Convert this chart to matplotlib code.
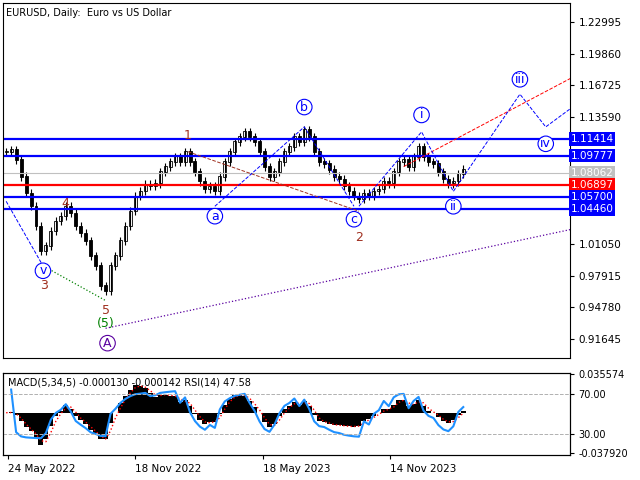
import numpy as np
import pandas as pd
import matplotlib
matplotlib.use("Agg")
from matplotlib import pyplot as plt

# closes sampled every 5 trading days (x in bar units)
closes = [1.1016, 1.1036, 1.0938, 1.0771, 1.0604, 1.0477, 1.0281, 1.0036, 1.0085, 1.0232,
          1.0330, 1.0379, 1.0477, 1.0408, 1.0281, 1.0212, 1.0134, 0.9987, 0.9889, 0.9693,
          0.9644, 0.9889, 0.9987, 1.0134, 1.0281, 1.0428, 1.0575, 1.0624, 1.0693, 1.0673,
          1.0702, 1.0820, 1.0869, 1.0918, 1.0967, 1.0918, 1.1016, 1.0918, 1.0820, 1.0722,
          1.0644, 1.0673, 1.0624, 1.0771, 1.0918, 1.1016, 1.1114, 1.1163, 1.1212, 1.1163,
          1.1114, 1.1016, 1.0869, 1.0771, 1.0820, 1.0918, 1.1016, 1.1065, 1.1163, 1.1114,
          1.1232, 1.1163, 1.1016, 1.0918, 1.0899, 1.0840, 1.0771, 1.0742, 1.0673, 1.0624,
          1.0575, 1.0546, 1.0604, 1.0575, 1.0624, 1.0644, 1.0722, 1.0702, 1.0820, 1.0918,
          1.0938, 1.0869, 1.0967, 1.1065, 1.0967, 1.0918, 1.0899, 1.0820, 1.0742, 1.0702,
          1.0722, 1.0800, 1.0840]
date_labels = ["24 May 2022", "18 Nov 2022", "18 May 2023", "14 Nov 2023"]
date_pos = [2, 130, 258, 386]

levels = [1.11414, 1.09777, 1.08062, 1.06897, 1.05700, 1.04460]
level_colors = ["#0000ff", "#0000ff", "#c0c0c0", "#ff0000", "#0000ff", "#0000ff"]
price_ticks = [0.91645, 0.94780, 0.97915, 1.01050, 1.13590, 1.16725, 1.19860, 1.22995]

# wave labels: (text, x, price, color, circled)
waves = [("v", 37, 0.9840, "#0000ff", True), ("a", 210, 1.0379, "#0000ff", True),
         ("b", 300, 1.1457, "#0000ff", True), ("c", 350, 1.0349, "#0000ff", True),
         ("i", 418, 1.1379, "#0000ff", True), ("ii", 450, 1.0477, "#0000ff", True),
         ("iii", 517, 1.1731, "#0000ff", True), ("iv", 543, 1.1094, "#0000ff", True),
         ("A", 102, 0.9125, "#5a00a0", True), ("(5)", 100, 0.9320, "#008000", False),
         ("1", 183, 1.1173, "#a03020", False), ("3", 38, 0.9693, "#a03020", False),
         ("4", 60, 1.0506, "#a03020", False), ("5", 100, 0.9448, "#a03020", False),
         ("2", 355, 1.0173, "#a03020", False)]

def px(y):
    return 1.2486 - 0.00098 * y

fig = plt.figure(figsize=(6.4, 4.8), dpi=100)
ax = fig.add_axes([0.005, 0.254, 0.885, 0.74])
ax2 = fig.add_axes([0.005, 0.052, 0.885, 0.171])

c = np.array(closes)
x = np.arange(len(c)) * 5
o = np.r_[c[0], c[:-1]]
hi = np.maximum(o, c) + 0.004
lo = np.minimum(o, c) - 0.004
ax.vlines(x, lo, hi, color="black", lw=0.8)
for xi, oi, ci in zip(x, o, c):
    ax.bar(xi, abs(ci - oi) + 0.0005, bottom=min(oi, ci), width=3,
           color="white" if ci >= oi else "black", edgecolor="black", lw=0.6)

for lv, col in zip(levels, level_colors):
    ax.axhline(lv, color=col, lw=0.8 if col == "#c0c0c0" else 1.6)
    ax.text(1.002, lv, f"{lv:.5f}", transform=ax.get_yaxis_transform(), va="center",
            ha="left", fontsize=7.5, color="white",
            bbox=dict(boxstyle="square,pad=0.15", fc=col, ec="none"), clip_on=False, zorder=5)

# wave lines
ax.plot([0, 37], [px(200), px(265)], ls="--", color="#0000ff", lw=0.7)
ax.plot([37, 100], [px(265), px(300)], ls=":", color="#008000", lw=0.9)
ax.plot([100, 570], [px(328), px(228)], ls=":", color="#5a00a0", lw=0.9)
ax.plot([183, 355], [px(150), px(210)], ls="--", color="#a03020", lw=0.7)
ax.plot([400, 570], [px(165), px(75)], ls="--", color="#ff0000", lw=0.7)
ax.plot([210, 300, 350], [px(205), px(125), px(205)], ls="--", color="#0000ff", lw=0.7)
ax.plot([355, 418, 450, 517, 543, 570], [px(205), px(130), px(190), px(92), px(125), px(105)],
        ls="--", color="#0000ff", lw=0.7)

for t, xi, p, col, circ in waves:
    bb = dict(boxstyle="circle,pad=0.1", fc="white", ec=col, lw=0.8) if circ else None
    ax.text(xi, p, t, color=col, fontsize=9, ha="center", va="center", bbox=bb, zorder=6)

ax.set_xlim(-3, 567)
ax.set_ylim(px(358), px(0))
ax.yaxis.tick_right()
ax.set_yticks(price_ticks)
ax.yaxis.set_major_formatter(matplotlib.ticker.FormatStrFormatter("%.5f"))
ax.tick_params(axis="y", labelsize=7.5, length=3)
ax.set_xticks([])
ax.text(0.005, 0.985, "EURUSD, Daily:  Euro vs US Dollar", transform=ax.transAxes,
        fontsize=7, va="top")

# MACD / RSI panel
s = pd.Series(c)
macd = s.ewm(span=2).mean() - s.ewm(span=7).mean()
signal = macd.rolling(2, min_periods=1).mean()
delta = s.diff().fillna(0)
up = delta.clip(lower=0).ewm(span=6).mean()
dn = (-delta.clip(upper=0)).ewm(span=6).mean()
rsi = 100 - 100 / (1 + up / (dn + 1e-9))
ax2.bar(x, macd, width=5, color="black")
ax2.plot(x, signal, color="red", ls=":", lw=1)
ax2.set_ylim(-0.0379, 0.0356)
ax2.set_xlim(-3, 567)
ax2.set_yticks([])
r = ax2.twinx()
r.set_ylim(8, 92)
r.plot(x[1:], rsi[1:] * 0.5 + 25, color="#1e90ff", lw=1.5)
r.axhline(70, color="#b0b0b0", ls="--", lw=0.7)
r.axhline(30, color="#b0b0b0", ls="--", lw=0.7)
r.set_yticks([90.5, 70, 30, 10])
r.set_yticklabels(["0.035574", "70.00", "30.00", "-0.037920"])
r.tick_params(axis="y", labelsize=7, length=3)
ax2.set_xticks(date_pos)
ax2.set_xticklabels(date_labels, ha="left")
ax2.tick_params(axis="x", labelsize=7.5, length=3)
ax2.text(0.008, 0.95, "MACD(5,34,5) -0.000130 -0.000142 RSI(14) 47.58",
         transform=ax2.transAxes, fontsize=7, va="top")

fig.savefig("out.png", dpi=100)
